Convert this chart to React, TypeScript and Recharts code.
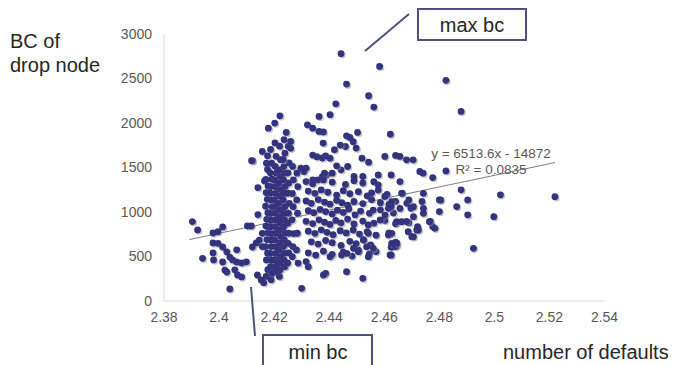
import React from "react";
import { ScatterChart, Scatter, XAxis, YAxis, ReferenceLine } from "recharts";

// ---- axis ticks ----
const xTicks = [2.38, 2.4, 2.42, 2.44, 2.46, 2.48, 2.5, 2.52, 2.54];
const yTicks = [0, 500, 1000, 1500, 2000, 2500, 3000];

// ---- trendline (as printed on the chart) ----
const trendSlope = 6513.6;
const trendIntercept = -14872;
const trendRange = [2.3892, 2.522];
const trendLabel = "y = 6513.6x - 14872";
const r2Label = "R² = 0.0835";

// ---- data: [number of defaults, BC of drop node] ----
const leftGroup: [number, number][] = [
  [2.3903, 892], [2.3922, 799], [2.394, 480], [2.3978, 764], [2.3996, 778], [2.4013, 832],
  [2.3978, 652], [2.3996, 648], [2.3978, 540], [2.398, 462], [2.4013, 607], [2.4028, 553],
  [2.4039, 494], [2.4049, 461], [2.4064, 438], [2.4082, 428], [2.4099, 440], [2.4064, 575],
  [2.4013, 438], [2.4021, 348], [2.4028, 326], [2.4057, 350], [2.4067, 292], [2.4082, 270],
  [2.4039, 135], [2.4103, 843], [2.4117, 843], [2.4139, 292], [2.4153, 236], [2.4121, 607],
  [2.4135, 652], [2.4146, 685], [2.4122, 1575], [2.4141, 1274], [2.4141, 971], [2.4165, 1349],
  [2.4157, 611], [2.4157, 760], [2.4162, 206],
];

const denseCluster: [number, number][] = [
  [2.4172, 1549], [2.4176, 1478], [2.417, 1365], [2.4178, 1290], [2.4171, 1218], [2.4175, 1142],
  [2.4169, 1066], [2.4177, 992], [2.4173, 918], [2.417, 842], [2.4178, 768], [2.4174, 690],
  [2.4169, 612], [2.4176, 538], [2.4172, 462], [2.4177, 352], [2.4171, 276],
  [2.4187, 1702], [2.4191, 1548], [2.4186, 1440], [2.4192, 1368], [2.4188, 1286], [2.4185, 1212],
  [2.419, 1136], [2.4193, 1058], [2.4187, 984], [2.4189, 908], [2.4186, 834], [2.4192, 758],
  [2.4188, 688], [2.419, 612], [2.4185, 534], [2.4191, 458], [2.4187, 386], [2.4193, 310], [2.4189, 238],
  [2.4203, 1776], [2.4207, 1626], [2.4204, 1512], [2.4208, 1436], [2.4202, 1358], [2.4206, 1284],
  [2.4205, 1208], [2.4201, 1134], [2.4208, 1062], [2.4204, 986], [2.4207, 912], [2.4203, 836],
  [2.4206, 760], [2.4202, 684], [2.4209, 608], [2.4205, 534], [2.4203, 462], [2.4207, 388], [2.4204, 330],
  [2.422, 1740], [2.4223, 1588], [2.4219, 1474], [2.4222, 1398], [2.4218, 1324], [2.4224, 1252],
  [2.4221, 1176], [2.4217, 1098], [2.4223, 1024], [2.422, 948], [2.4222, 874], [2.4219, 798],
  [2.4224, 726], [2.4221, 652], [2.4218, 574], [2.4223, 498], [2.422, 424], [2.4222, 350], [2.4219, 276],
  [2.4236, 1812], [2.4239, 1660], [2.4235, 1510], [2.4238, 1434], [2.4234, 1362], [2.424, 1286],
  [2.4237, 1210], [2.4233, 1136], [2.4239, 1060], [2.4236, 984], [2.4238, 910], [2.4235, 834],
  [2.424, 762], [2.4237, 686], [2.4234, 612], [2.4238, 536], [2.4236, 460], [2.4239, 386],
  [2.4251, 1738], [2.4254, 1552], [2.425, 1440], [2.4253, 1326], [2.4249, 1212], [2.4255, 1098],
  [2.4252, 986], [2.425, 874], [2.4254, 762], [2.4251, 648], [2.4253, 540], [2.4249, 428],
  [2.4267, 1512], [2.427, 1362], [2.4266, 1208], [2.4269, 1060], [2.4265, 912], [2.4271, 758],
  [2.4268, 612], [2.4266, 498],
  [2.4283, 1436], [2.4286, 1286], [2.4282, 1136], [2.4285, 986], [2.4284, 762], [2.4281, 574], [2.4287, 426],
];

const upperPoints: [number, number][] = [
  [2.4179, 1942], [2.4202, 1999], [2.4221, 2081], [2.4244, 1894], [2.426, 1792], [2.426, 1716],
  [2.4157, 1680], [2.4176, 1631], [2.4233, 1590], [2.4118, 1577], [2.4297, 1492], [2.4316, 1492],
  [2.4308, 1455], [2.4321, 1980], [2.434, 1942], [2.4363, 1905], [2.4379, 1900], [2.4363, 2074],
  [2.4403, 2093], [2.434, 1640], [2.4355, 1621], [2.4375, 1607], [2.434, 1360], [2.4358, 1360],
  [2.4375, 1397], [2.439, 1416],
  [2.4443, 2779], [2.4463, 2437], [2.4424, 2216], [2.4543, 2306], [2.4562, 2179], [2.4583, 2636],
  [2.4824, 2479], [2.4879, 2130], [2.4622, 1875],
  [2.4463, 1856], [2.4475, 1838], [2.4503, 1894], [2.4487, 1790], [2.4459, 1736], [2.444, 1752],
  [2.4419, 1700], [2.4498, 1718], [2.4519, 1605], [2.4543, 1560], [2.4387, 1631], [2.4403, 1605],
  [2.4383, 1436], [2.4411, 1436], [2.4443, 1474], [2.4467, 1511], [2.4427, 1519], [2.4378, 1775],
  [2.4602, 1624], [2.4641, 1636], [2.4657, 1624], [2.4681, 1586], [2.4705, 1586], [2.4729, 1455],
  [2.4741, 1436], [2.4776, 1387], [2.4824, 1462], [2.4625, 1417], [2.4578, 1417], [2.4522, 1399],
  [2.449, 1399],
];

const midCluster: [number, number][] = [
  [2.4316, 1342], [2.434, 1318], [2.4379, 1360], [2.4411, 1335], [2.4459, 1310], [2.449, 1352],
  [2.4522, 1326], [2.4562, 1340], [2.4578, 1305],
  [2.4324, 1235], [2.4348, 1210], [2.4371, 1248], [2.4395, 1222], [2.4427, 1190], [2.4451, 1240],
  [2.4475, 1205], [2.4506, 1228], [2.4538, 1182], [2.4554, 1215], [2.4578, 1246], [2.461, 1198],
  [2.4316, 1125], [2.4335, 1098], [2.436, 1140], [2.4383, 1110], [2.4403, 1088], [2.4427, 1132],
  [2.4446, 1105], [2.4467, 1078], [2.449, 1118], [2.4522, 1095], [2.4554, 1140], [2.4586, 1105],
  [2.4617, 1085], [2.4641, 1120],
  [2.4324, 1015], [2.4344, 992], [2.4367, 1030], [2.4387, 1005], [2.4411, 978], [2.443, 1020],
  [2.4451, 995], [2.4471, 1035], [2.4494, 968], [2.4514, 1010], [2.4546, 985], [2.4586, 1025],
  [2.4633, 990], [2.4657, 1040],
  [2.4316, 895], [2.434, 870], [2.4363, 912], [2.4383, 885], [2.4403, 860], [2.4424, 905],
  [2.4443, 878], [2.4467, 920], [2.449, 865], [2.4522, 898], [2.4562, 875], [2.4602, 905],
  [2.4641, 868], [2.4689, 880],
  [2.4324, 785], [2.4348, 760], [2.4371, 800], [2.4392, 772], [2.4414, 745], [2.444, 790],
  [2.4462, 765], [2.4487, 798], [2.451, 752], [2.4538, 778], [2.457, 740], [2.4617, 765],
  [2.4335, 665], [2.436, 640], [2.4387, 680], [2.4411, 655], [2.4443, 625], [2.4475, 670],
  [2.4498, 645], [2.4525, 690], [2.4551, 630], [2.4625, 605], [2.4641, 660],
  [2.4324, 540], [2.4351, 515], [2.4379, 560], [2.4411, 525], [2.4451, 548], [2.4483, 505],
  [2.4506, 570], [2.4546, 530], [2.457, 555],
  [2.4316, 443], [2.4324, 386], [2.4387, 311], [2.4379, 292], [2.4463, 330], [2.4522, 255], [2.43, 142],
  [2.4403, 498], [2.4445, 517], [2.4464, 536], [2.4488, 592], [2.4506, 554], [2.4542, 498],
  [2.4536, 610], [2.456, 592], [2.4542, 854], [2.4542, 760], [2.4524, 685],
];

const rightGroup: [number, number][] = [
  [2.4585, 910], [2.4603, 966], [2.4645, 891], [2.4663, 891], [2.456, 1022], [2.4615, 1041],
  [2.4627, 1116], [2.4682, 1098], [2.4663, 1210], [2.4615, 742], [2.4627, 760], [2.4687, 779],
  [2.47, 723], [2.4718, 798], [2.4621, 517], [2.4627, 648], [2.4645, 629],
  [2.4657, 1342], [2.4665, 1211], [2.4689, 1136], [2.4737, 1118], [2.4768, 893], [2.4776, 836],
  [2.48, 1136], [2.48, 1005], [2.4863, 1061], [2.4879, 1249], [2.4903, 1136], [2.4903, 968],
  [2.4602, 1174], [2.4625, 1061], [2.4697, 1043], [2.4721, 836], [2.4681, 893], [2.4641, 611],
  [2.4625, 518], [2.4646, 649],
  [2.4742, 1210], [2.4742, 1041], [2.4742, 985], [2.4706, 1060], [2.4706, 947], [2.4764, 891],
  [2.4784, 817], [2.4724, 798], [2.4706, 723], [2.4805, 1135],
  [2.4924, 592], [2.4998, 947], [2.5022, 1193], [2.522, 1172],
];

const allPoints = [...leftGroup, ...denseCluster, ...upperPoints, ...midCluster, ...rightGroup].map(
  ([x, y]) => ({ x, y })
);

const FONT = "'Liberation Sans', Arial, sans-serif";
const TICK_COLOR = "#595959";
const DOT_COLOR = "#34347e";
const BOX_COLOR = "#50507f";

const Dot = (props: any) => {
  const { cx, cy } = props;
  if (cx == null || cy == null) return null;
  return (
    <g>
      <circle cx={cx + 1.3} cy={cy + 1.3} r={3.4} fill="#8a8a96" opacity={0.5} />
      <circle cx={cx} cy={cy} r={3.4} fill={DOT_COLOR} />
    </g>
  );
};

export default function App() {
  const trendPts = trendRange.map((x) => ({ x, y: trendSlope * x + trendIntercept }));
  return (
    <div style={{ position: "absolute", left: 0, top: 0, width: 686, height: 365, background: "#fff" }}>
      <ScatterChart
        width={686}
        height={365}
        margin={{ top: 34, right: 81.5, bottom: 34, left: 124 }}
      >
        <XAxis
          type="number"
          dataKey="x"
          domain={[2.38, 2.54]}
          ticks={xTicks}
          allowDataOverflow
          height={30}
          tickLine={false}
          tickSize={0}
          tickMargin={11}
          axisLine={{ stroke: "#d9d9d9" }}
          tick={{ fill: TICK_COLOR, fontSize: 14, fontFamily: FONT }}
          tickFormatter={(v: number) => String(parseFloat(v.toFixed(2)))}
        />
        <YAxis
          type="number"
          dataKey="y"
          domain={[0, 3000]}
          ticks={yTicks}
          allowDataOverflow
          width={40}
          tickLine={false}
          tickSize={0}
          tickMargin={12}
          axisLine={{ stroke: "#d9d9d9" }}
          tick={{ fill: TICK_COLOR, fontSize: 14, fontFamily: FONT }}
        />
        <Scatter data={allPoints} shape={<Dot />} isAnimationActive={false} />
        <ReferenceLine
          segment={trendPts as any}
          stroke="#7c7c90"
          strokeWidth={1}
          ifOverflow="visible"
        />
      </ScatterChart>
      <svg
        width={686}
        height={365}
        style={{ position: "absolute", left: 0, top: 0, pointerEvents: "none" }}
      >
        <g fontFamily={FONT}>
          <text x={10} y={48} fontSize={20} fill="#262626">BC of</text>
          <text x={10} y={72} fontSize={20} fill="#262626">drop node</text>
          <text x={503} y={359} fontSize={20} fill="#262626">number of defaults</text>

          <text x={491} y={158} fontSize={13.5} fill={TICK_COLOR} textAnchor="middle">{trendLabel}</text>
          <text x={491} y={174} fontSize={13.5} fill={TICK_COLOR} textAnchor="middle">{r2Label}</text>

          <line x1={365} y1={51} x2={409} y2={14} stroke={BOX_COLOR} strokeWidth={2} />
          <rect x={418} y={9} width={108} height={31} fill="#fff" stroke={BOX_COLOR} strokeWidth={2} />
          <text x={472} y={32} fontSize={20} fill="#262626" textAnchor="middle">max bc</text>

          <line x1={251} y1={287} x2={255} y2={336} stroke={BOX_COLOR} strokeWidth={2} />
          <rect x={263} y={335} width={109} height={40} fill="#fff" stroke={BOX_COLOR} strokeWidth={2} />
          <text x={318} y={359} fontSize={20} fill="#262626" textAnchor="middle">min bc</text>
        </g>
      </svg>
    </div>
  );
}
